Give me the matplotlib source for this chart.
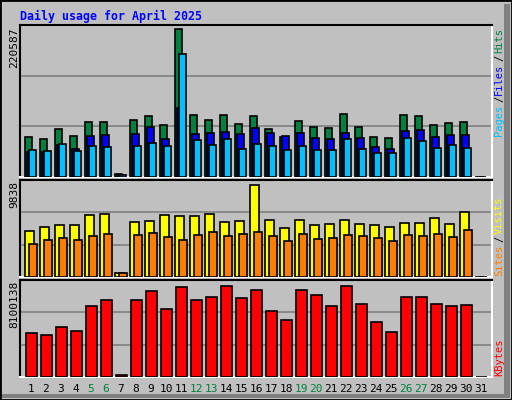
import numpy as np
import matplotlib
matplotlib.use('Agg')
from matplotlib import pyplot as plt
from matplotlib.patches import Rectangle

days = np.arange(1, 32)
weekends = [5, 6, 12, 13, 19, 20, 26, 27]

hits = [59600, 56600, 71500, 61100, 82000, 82000, 4500, 84900, 90900, 77500, 220587,
        92400, 84900, 92400, 79000, 90900, 71500, 59600, 83400, 74500, 73000, 93900,
        74500, 59600, 58100, 92400, 90900, 77500, 80500, 82000, 0]
files = [37300, 37300, 47700, 41700, 61100, 62600, 3000, 64100, 74500, 56600, 102800,
         64100, 65600, 67100, 64100, 73000, 65600, 61100, 65600, 58100, 56600, 65600,
         58100, 44700, 41700, 68500, 70000, 59600, 62600, 62600, 0]
pages = [40200, 38700, 49200, 38700, 46200, 44700, 3000, 46200, 50700, 46200, 183300,
         55100, 47700, 56600, 41700, 49200, 46200, 40200, 46200, 40200, 40200, 56600,
         41700, 35800, 35800, 58100, 53600, 43200, 47700, 43200, 0]
visits = [4940, 5360, 5570, 5570, 6640, 6750, 460, 5890, 6000, 6640, 6530, 6530, 6750,
          5890, 6000, 9838, 6110, 5250, 6110, 5570, 5680, 6110, 5680, 5570, 5360, 5790,
          5790, 6320, 5680, 6960, 0]
sites = [3550, 3980, 4190, 3980, 4400, 4620, 460, 4510, 4720, 4300, 3980, 4510, 4830,
         4400, 4620, 4830, 4400, 3870, 4620, 4080, 4190, 4510, 4400, 4190, 3870, 4510,
         4400, 4620, 4300, 5040, 0]
kbytes = [3932000, 3754000, 4464000, 4109000, 6326000, 6859000, 207000, 6859000, 7657000,
          6060000, 8011000, 6859000, 7125000, 8100138, 7036000, 7745000, 5883000, 5085000,
          7745000, 7302000, 6326000, 8100138, 6504000, 4907000, 4021000, 7125000, 7125000,
          6504000, 6326000, 6415000, 0]

BG = '#C0C0C0'
W, H = 512, 400
fig = plt.figure(figsize=(5.12, 4.0), dpi=100, facecolor=BG)

# outer 3d frame
fig.patches.append(Rectangle((0, 0), 1, 1, transform=fig.transFigure, fill=False,
                             edgecolor='black', linewidth=2))
fig.patches.append(Rectangle((504 / W, 2 / H), 6 / W, 394 / H, transform=fig.transFigure,
                             facecolor='#808080', edgecolor='none'))
fig.patches.append(Rectangle((2 / W, 2 / H), 504 / W, 4 / H, transform=fig.transFigure,
                             facecolor='#808080', edgecolor='none'))


def panel(top, bottom):
    ax = fig.add_axes([20 / W, 1 - bottom / H, 472 / W, (bottom - top) / H])
    ax.set_facecolor(BG)
    ax.set_xlim(0.27, 31.73)
    ax.set_xticks([])
    ax.set_yticks([])
    for s in ['top', 'left']:
        ax.spines[s].set_color('black')
    for s in ['bottom', 'right']:
        ax.spines[s].set_color('white')
    for s in ax.spines.values():
        s.set_linewidth(1.5)
    return ax


def bars(ax, vals, x0, x1, color):
    x = days + x0
    ax.bar(x, vals, width=x1 - x0, align='edge', color=color, edgecolor='black',
           linewidth=1.2, zorder=3)


def grid(ax, vmax, frac):
    top = vmax / frac
    ax.set_ylim(0, top)
    for k in (1, 2):
        ax.axhline(top * k / 3, color='#808080', linewidth=1.2, zorder=1)


mono = 'DejaVu Sans Mono'

ax1 = panel(25, 177)
grid(ax1, max(hits), 148 / 152)
bars(ax1, hits, -0.4, 0.07, '#008040')
bars(ax1, files, -0.27, 0.2, '#0000FF')
bars(ax1, pages, -0.13, 0.33, '#00C0FF')

ax2 = panel(180, 277)
grid(ax2, max(visits), 92.3 / 97)
bars(ax2, visits, -0.4, 0.2, '#FFFF00')
bars(ax2, sites, -0.13, 0.4, '#FF8000')

ax3 = panel(280, 377)
grid(ax3, max(kbytes), 91.3 / 97)
bars(ax3, kbytes, -0.33, 0.4, '#FF0000')

fig.text(20 / W, 1 - 16 / H, 'Daily usage for April 2025', color='#0000FF',
         family=mono, fontweight='bold', fontsize=8.4, va='center')

for label, ytop in [(str(max(hits)), 27), (str(max(visits)), 181), (str(max(kbytes)), 281)]:
    fig.text(14 / W, 1 - ytop / H, label, rotation=90, family=mono, fontsize=8,
             va='top', ha='center', color='black')


# right side legends, each piece placed top-down
def side(parts, ytop):
    y = ytop
    for txt, col in parts:
        fig.text(499 / W, 1 - y / H, txt, rotation=90, family=mono, fontsize=7.5,
                 va='top', ha='center', color=col)
        y += len(txt) * 5.9 + 3
    return y

slash = ('/', '#000000')
side([('Hits', '#008040'), slash, ('Files', '#0000FF'), slash, ('Pages', '#00C0FF')], 28)
side([('Visits', '#FFFF00'), slash, ('Sites', '#FF8000')], 197)
side([('KBytes', '#FF0000')], 338)

for d in days:
    x = 20 + (d - 0.27) / 31.46 * 472
    fig.text(x / W, 1 - 389 / H, str(d), ha='center', va='center', fontsize=8,
             family=mono, color='#008040' if d in weekends else 'black')

fig.savefig('out.png', dpi=100, facecolor=BG)
